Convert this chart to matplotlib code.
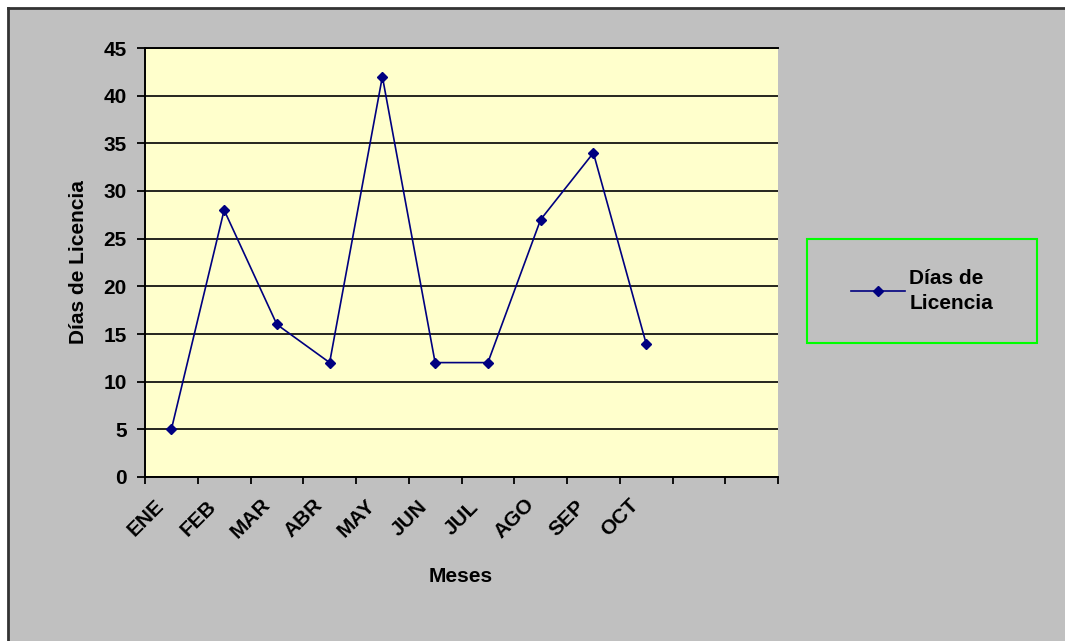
import matplotlib
matplotlib.use("Agg")
import matplotlib.pyplot as plt
from matplotlib.patches import Rectangle
from matplotlib.lines import Line2D
from matplotlib.transforms import ScaledTranslation
import numpy as np

# monthly data
meses = ["ENE", "FEB", "MAR", "ABR", "MAY", "JUN", "JUL", "AGO", "SEP", "OCT"]
dias_licencia = [5, 28, 16, 12, 42, 12, 12, 27, 34, 14]
n_slots = 12
y_ticks = [0, 5, 10, 15, 20, 25, 30, 35, 40, 45]

plt.rcParams["font.family"] = ["Liberation Sans", "DejaVu Sans"]
plt.rcParams["font.weight"] = "bold"

FS = 15
W, H = 1065, 641
fig = plt.figure(figsize=(W / 100, H / 100), dpi=100, facecolor="white")

# chart area background with a dark edge on top/left
fig.patches.append(Rectangle((8 / W, 0), 1 - 8 / W, 1 - 8 / H, transform=fig.transFigure,
                             facecolor="#C0C0C0", edgecolor="none", zorder=-10))
fig.lines.append(Line2D([8 / W, 8 / W], [0, 1 - 8 / H], transform=fig.transFigure,
                        color="#333333", lw=2, zorder=-5))
fig.lines.append(Line2D([8 / W, 1], [1 - 8 / H, 1 - 8 / H], transform=fig.transFigure,
                        color="#333333", lw=2, zorder=-5))

ax = fig.add_axes([145 / W, 164 / H, (778 - 145) / W, (477 - 48) / H])
ax.set_facecolor("#FFFFCC")

x = np.arange(len(meses)) + 0.5
ax.plot(x, dias_licencia, color="#000080", lw=1.2, marker="D", markersize=5.5,
        label="Días de\nLicencia", zorder=3)

ax.set_xlim(0, n_slots)
ax.set_ylim(0, 45)
ax.set_yticks(y_ticks)
ax.yaxis.grid(True, color="black", lw=1.2)
ax.set_axisbelow(True)

# category boundaries get the tick marks, month names sit between them
ax.set_xticks(np.arange(n_slots + 1))
ax.set_xticklabels([])
ax.tick_params(axis="x", which="major", length=5, width=1.3, direction="out")
lbl_trans = ax.get_xaxis_transform() + ScaledTranslation(-26 / 100, -41 / 100, fig.dpi_scale_trans)
for xi, m in zip(x, meses):
    ax.text(xi, 0, m, transform=lbl_trans, rotation=45, ha="center", va="center",
            fontsize=FS, fontweight="bold", clip_on=False)

ax.tick_params(axis="y", length=6, width=1.3, direction="out", labelsize=FS, pad=7)
for lbl in ax.get_yticklabels():
    lbl.set_fontweight("bold")

ax.spines["right"].set_visible(False)
for s in ["left", "bottom", "top"]:
    ax.spines[s].set_color("black")
    ax.spines[s].set_linewidth(1.4)

ax.set_xlabel("Meses", fontsize=FS, fontweight="bold")
ax.set_ylabel("Días de Licencia", fontsize=FS, fontweight="bold")
ax.xaxis.set_label_coords((461 - 145) / (778 - 145), -(577 - 477) / (477 - 48))
ax.yaxis.set_label_coords(-(145 - 78) / (778 - 145), 0.5)
ax.xaxis.label.set_va("center")
ax.yaxis.label.set_va("center")

# legend box
fig.patches.append(Rectangle((807 / W, 1 - 343 / H), 230 / W, 104 / H, transform=fig.transFigure,
                             facecolor="none", edgecolor="#00FF00", lw=1.5, zorder=5))
leg = fig.legend(loc="center", bbox_to_anchor=(922 / W, 1 - 291 / H), frameon=False,
                 fontsize=FS, handlelength=2.6, handletextpad=0.2)
for t in leg.get_texts():
    t.set_linespacing(1.45)

fig.savefig("out.png", dpi=100, facecolor="white")
